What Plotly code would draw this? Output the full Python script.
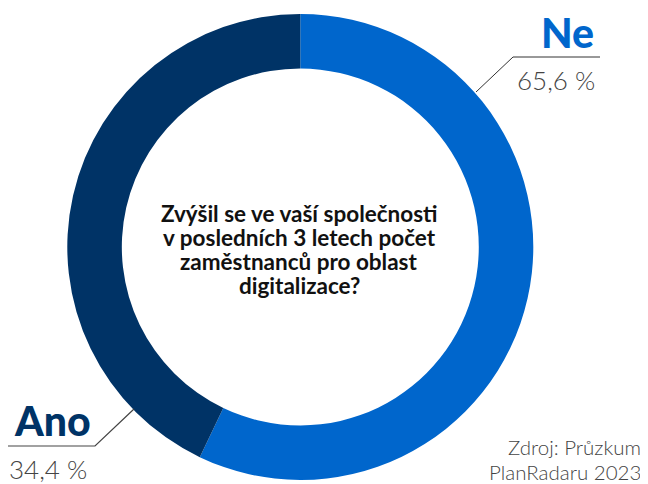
import plotly.graph_objects as go

labels = ["Ne", "Ano"]
# percentages printed on the chart
percent_labels = [65.6, 34.4]
# ring arc shares as drawn in the reference picture (measured from the arcs)
arc_shares = [57.1, 42.9]
colors = ["#0066CC", "#003366"]
question_lines = ["Zvýšil se ve vaší společnosti", "v posledních 3 letech počet",
                  "zaměstnanců pro oblast", "digitalizace?"]
source_lines = ["Zdroj: Průzkum", "PlanRadaru 2023"]

# page has 8px body margin; figure is offset by it
OFF = 8
W, H = 648 - OFF, 484 - OFF
def px(x):
    return (x - OFF) / W
def py(y):
    return 1 - (y - OFF) / H

fig = go.Figure()
fig.add_trace(go.Pie(
    labels=labels, values=arc_shares, hole=0.766, sort=False, direction="clockwise",
    rotation=0, textinfo="none", hoverinfo="label",
    marker=dict(colors=colors, line=dict(width=0)),
    domain=dict(x=[px(67.3), px(533.3)], y=[py(480), py(14)]),
    showlegend=False,
))

def fmt(v):
    return f"{v:.1f}".replace(".", ",") + " %"

ann = []
for i, line in enumerate(question_lines):
    ann.append(dict(x=px(299), y=py(213 + 24 * i), xref="paper", yref="paper", text=line,
                    showarrow=False, xanchor="center", yanchor="middle", align="center",
                    font=dict(family="Lato", size=22.5, color="#111111", weight="bold")))
ann.append(dict(x=px(567), y=py(32), xref="paper", yref="paper", text=labels[0],
                showarrow=False, xanchor="center", yanchor="middle",
                font=dict(family="Lato", size=41, color=colors[0], weight=900)))
ann.append(dict(x=px(556), y=py(80), xref="paper", yref="paper", text=fmt(percent_labels[0]),
                showarrow=False, xanchor="center", yanchor="middle",
                font=dict(family="Lato", size=26, color="#444444", weight=300)))
ann.append(dict(x=px(52), y=py(420), xref="paper", yref="paper", text=labels[1],
                showarrow=False, xanchor="center", yanchor="middle",
                font=dict(family="Lato", size=41, color=colors[1], weight=900)))
ann.append(dict(x=px(48), y=py(469), xref="paper", yref="paper", text=fmt(percent_labels[1]),
                showarrow=False, xanchor="center", yanchor="middle",
                font=dict(family="Lato", size=26, color="#444444", weight=300)))
for i, line in enumerate(source_lines):
    ann.append(dict(x=px(643), y=py(447 + 24.5 * i), xref="paper", yref="paper", text=line,
                    showarrow=False, xanchor="right", yanchor="middle", align="right",
                    font=dict(family="Lato", size=20.5, color="#444444", weight=300)))

shapes = [
    dict(type="path", xref="paper", yref="paper",
         path=f"M {px(476)} {py(92)} L {px(513)} {py(57)} L {px(600)} {py(57)}",
         line=dict(color="#333333", width=1)),
    dict(type="path", xref="paper", yref="paper",
         path=f"M {px(134)} {py(409)} L {px(95)} {py(446)} L {px(8)} {py(446)}",
         line=dict(color="#444444", width=1.2)),
]

fig.update_layout(width=W, height=H, margin=dict(l=0, r=0, t=0, b=0),
                  paper_bgcolor="white", plot_bgcolor="white",
                  annotations=ann, shapes=shapes)
fig.write_html("out.html")
